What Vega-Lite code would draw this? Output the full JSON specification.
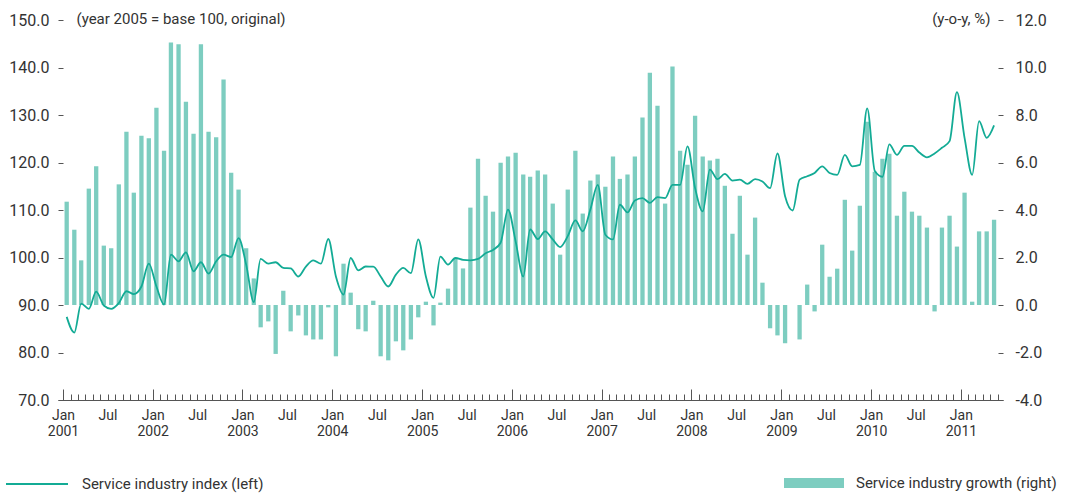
{
 "$schema": "https://vega.github.io/schema/vega-lite/v6.json",
 "width": 945,
 "height": 380,
 "autosize": {"type": "none"},
 "padding": {"left": 58, "top": 20, "right": 71, "bottom": 97},
 "background": "white",
 "config": {
  "view": {"stroke": null},
  "font": "Roboto",
  "axis": {"labelColor": "#333", "tickColor": "#555", "domainColor": "#555", "grid": false, "labelFont": "Roboto", "titleFont": "Roboto", "titleFontWeight": "normal", "titleColor": "#333"},
  "legend": {"labelFont": "Roboto", "labelColor": "#333", "labelFontSize": 15, "labelLimit": 0, "padding": 0, "offset": 0}
 },
 "data": {"values": [
  {"d":"2001-01-16","g":4.35,"i":87.5},{"d":"2001-02-16","g":3.17,"i":84.2},{"d":"2001-03-16","g":1.88,"i":90.3},{"d":"2001-04-16","g":4.90,"i":89.2},{"d":"2001-05-16","g":5.84,"i":92.8},{"d":"2001-06-16","g":2.50,"i":89.9},{"d":"2001-07-16","g":2.39,"i":89.2},{"d":"2001-08-16","g":5.08,"i":90.4},{"d":"2001-09-16","g":7.30,"i":92.9},{"d":"2001-10-16","g":4.73,"i":92.3},{"d":"2001-11-16","g":7.13,"i":93.9},{"d":"2001-12-16","g":7.02,"i":98.7},
  {"d":"2002-01-16","g":8.31,"i":93.9},{"d":"2002-02-16","g":6.50,"i":90.1},{"d":"2002-03-16","g":11.05,"i":100.6},{"d":"2002-04-16","g":10.98,"i":99.2},{"d":"2002-05-16","g":8.56,"i":101.1},{"d":"2002-06-16","g":7.21,"i":97.1},{"d":"2002-07-16","g":10.98,"i":99.0},{"d":"2002-08-16","g":7.30,"i":96.6},{"d":"2002-09-16","g":7.06,"i":99.2},{"d":"2002-10-16","g":9.49,"i":100.6},{"d":"2002-11-16","g":5.57,"i":100.1},{"d":"2002-12-16","g":4.86,"i":104.1},
  {"d":"2003-01-16","g":2.39,"i":98.5},{"d":"2003-02-16","g":1.12,"i":90.6},{"d":"2003-03-16","g":-0.94,"i":99.7},{"d":"2003-04-16","g":-0.69,"i":98.7},{"d":"2003-05-16","g":-2.06,"i":99.0},{"d":"2003-06-16","g":0.60,"i":97.8},{"d":"2003-07-16","g":-1.11,"i":97.7},{"d":"2003-08-16","g":-0.44,"i":96.0},{"d":"2003-09-16","g":-1.28,"i":98.1},{"d":"2003-10-16","g":-1.45,"i":99.4},{"d":"2003-11-16","g":-1.45,"i":98.7},{"d":"2003-12-16","g":-0.10,"i":103.9},
  {"d":"2004-01-16","g":-2.16,"i":96.0},{"d":"2004-02-16","g":1.74,"i":92.2},{"d":"2004-03-16","g":0.52,"i":99.9},{"d":"2004-04-16","g":-1.02,"i":97.3},{"d":"2004-05-16","g":-1.11,"i":98.1},{"d":"2004-06-16","g":0.18,"i":98.1},{"d":"2004-07-16","g":-2.16,"i":96.0},{"d":"2004-08-16","g":-2.33,"i":93.9},{"d":"2004-09-16","g":-1.53,"i":96.4},{"d":"2004-10-16","g":-1.91,"i":97.8},{"d":"2004-11-16","g":-1.45,"i":96.7},{"d":"2004-12-16","g":-0.52,"i":103.8},
  {"d":"2005-01-16","g":0.14,"i":96.0},{"d":"2005-02-16","g":-0.86,"i":91.5},{"d":"2005-03-16","g":0.10,"i":100.2},{"d":"2005-04-16","g":0.69,"i":98.5},{"d":"2005-05-16","g":1.99,"i":99.9},{"d":"2005-06-16","g":1.54,"i":99.5},{"d":"2005-07-16","g":4.10,"i":99.4},{"d":"2005-08-16","g":6.16,"i":99.7},{"d":"2005-09-16","g":4.60,"i":100.9},{"d":"2005-10-16","g":3.93,"i":101.6},{"d":"2005-11-16","g":5.99,"i":103.1},{"d":"2005-12-16","g":6.25,"i":110.1},
  {"d":"2006-01-16","g":6.41,"i":103.4},{"d":"2006-02-16","g":5.49,"i":96.0},{"d":"2006-03-16","g":5.40,"i":105.9},{"d":"2006-04-16","g":5.66,"i":103.9},{"d":"2006-05-16","g":5.49,"i":105.5},{"d":"2006-06-16","g":4.27,"i":103.8},{"d":"2006-07-16","g":2.12,"i":102.2},{"d":"2006-08-16","g":4.86,"i":104.5},{"d":"2006-09-16","g":6.50,"i":107.8},{"d":"2006-10-16","g":3.85,"i":105.5},{"d":"2006-11-16","g":5.24,"i":110.1},{"d":"2006-12-16","g":5.49,"i":115.3},
  {"d":"2007-01-16","g":4.98,"i":104.8},{"d":"2007-02-16","g":6.25,"i":103.8},{"d":"2007-03-16","g":5.31,"i":111.1},{"d":"2007-04-16","g":5.49,"i":109.5},{"d":"2007-05-16","g":6.25,"i":112.0},{"d":"2007-06-16","g":7.89,"i":112.5},{"d":"2007-07-16","g":9.78,"i":111.5},{"d":"2007-08-16","g":8.39,"i":112.7},{"d":"2007-09-16","g":4.27,"i":112.5},{"d":"2007-10-16","g":10.04,"i":115.3},{"d":"2007-11-16","g":6.50,"i":115.3},{"d":"2007-12-16","g":5.91,"i":123.4},
  {"d":"2008-01-16","g":7.97,"i":114.6},{"d":"2008-02-16","g":6.25,"i":109.7},{"d":"2008-03-16","g":6.08,"i":118.5},{"d":"2008-04-16","g":6.16,"i":116.5},{"d":"2008-05-16","g":5.02,"i":117.6},{"d":"2008-06-16","g":3.00,"i":116.2},{"d":"2008-07-16","g":4.60,"i":116.4},{"d":"2008-08-16","g":2.12,"i":115.5},{"d":"2008-09-16","g":3.68,"i":116.5},{"d":"2008-10-16","g":0.94,"i":116.0},{"d":"2008-11-16","g":-0.98,"i":114.6},{"d":"2008-12-16","g":-1.28,"i":121.9},
  {"d":"2009-01-16","g":-1.61,"i":112.9},{"d":"2009-02-16","g":0.0,"i":109.9},{"d":"2009-03-16","g":-1.45,"i":116.4},{"d":"2009-04-16","g":0.86,"i":117.1},{"d":"2009-05-16","g":-0.27,"i":117.8},{"d":"2009-06-16","g":2.54,"i":119.2},{"d":"2009-07-16","g":1.19,"i":117.8},{"d":"2009-08-16","g":1.53,"i":117.4},{"d":"2009-09-16","g":4.43,"i":121.6},{"d":"2009-10-16","g":2.29,"i":119.2},{"d":"2009-11-16","g":4.18,"i":119.5},{"d":"2009-12-16","g":7.72,"i":131.4},
  {"d":"2010-01-16","g":5.61,"i":118.2},{"d":"2010-02-16","g":6.16,"i":117.0},{"d":"2010-03-16","g":6.37,"i":123.8},{"d":"2010-04-16","g":3.76,"i":121.6},{"d":"2010-05-16","g":4.77,"i":123.5},{"d":"2010-06-16","g":3.93,"i":123.5},{"d":"2010-07-16","g":3.76,"i":122.1},{"d":"2010-08-16","g":3.26,"i":121.1},{"d":"2010-09-16","g":-0.27,"i":121.9},{"d":"2010-10-16","g":3.26,"i":123.1},{"d":"2010-11-16","g":3.76,"i":124.5},{"d":"2010-12-16","g":2.46,"i":134.8},
  {"d":"2011-01-16","g":4.73,"i":125.2},{"d":"2011-02-16","g":0.14,"i":117.4},{"d":"2011-03-16","g":3.10,"i":128.7},{"d":"2011-04-16","g":3.10,"i":125.2},{"d":"2011-05-16","g":3.59,"i":127.8}
 ]},
 "encoding": {
  "x": {
   "field": "d", "type": "temporal", "title": null,
   "scale": {"type": "utc", "domain": [{"year": 2001, "month": 1, "date": 1, "utc": true}, {"year": 2011, "month": 6, "date": 1, "utc": true}]},
   "axis": {
    "tickCount": {"interval": "month", "step": 1},
    "tickSize": {"condition": {"test": "utcmonth(datum.value) === 0", "value": -11}, "value": -6},
    "labelPadding": {"condition": {"test": "utcmonth(datum.value) === 0", "value": 19}, "value": 14},
    "labelExpr": "utcmonth(datum.value) === 0 ? ['Jan', utcFormat(datum.value, '%Y')] : (utcmonth(datum.value) === 6 ? 'Jul' : '')",
    "labelOverlap": false, "labelFlush": false, "labelBound": false,
    "labelFontSize": 14, "labelLineHeight": 16, "labelAlign": "center", "labelBaseline": "top",
    "tickWidth": 1, "domainWidth": 1
   }
  }
 },
 "layer": [
  {
   "mark": {"type": "bar", "size": 4.3},
   "encoding": {
    "y": {"field": "g", "type": "quantitative", "scale": {"domain": [-4, 12], "nice": false, "zero": false},
     "axis": {"orient": "right", "values": [-4, -2, 0, 2, 4, 6, 8, 10, 12], "labelExpr": "replace(format(datum.value, '.1f'), '\u2212', '-')", "tickSize": -5, "labelPadding": 17, "domain": false, "labelFontSize": 16,
      "title": "(y-o-y, %)", "titleAngle": 0, "titleAlign": "right", "titleBaseline": "middle", "titleX": -13, "titleY": -2, "titleFontSize": 15}},
    "fill": {"datum": "Service industry growth (right)", "scale": {"range": ["#7dcdc0"]},
     "legend": {"orient": "none", "legendX": 726, "legendY": 433, "title": null, "symbolType": "M-1,-0.17H1V0.17H-1Z", "symbolSize": 3600, "symbolStrokeWidth": 0, "labelOffset": 12}}
   }
  },
  {
   "mark": {"type": "line", "interpolate": "monotone", "strokeWidth": 1.8},
   "encoding": {
    "y": {"field": "i", "type": "quantitative", "scale": {"domain": [70, 150], "nice": false, "zero": false},
     "axis": {"orient": "left", "values": [70, 80, 90, 100, 110, 120, 130, 140, 150], "format": ".1f", "tickSize": -5, "labelPadding": 14, "domain": false, "labelFontSize": 16,
      "title": "(year 2005 = base 100, original)", "titleAngle": 0, "titleAlign": "left", "titleBaseline": "middle", "titleX": 18, "titleY": -2, "titleFontSize": 15}},
    "stroke": {"datum": "Service industry index (left)", "scale": {"range": ["#13ab95"]},
     "legend": {"orient": "none", "legendX": -53, "legendY": 432, "title": null, "symbolType": "stroke", "symbolSize": 3844, "symbolStrokeWidth": 2, "labelOffset": 13}}
   }
  }
 ],
 "resolve": {"scale": {"y": "independent", "fill": "independent", "stroke": "independent"}}
}
